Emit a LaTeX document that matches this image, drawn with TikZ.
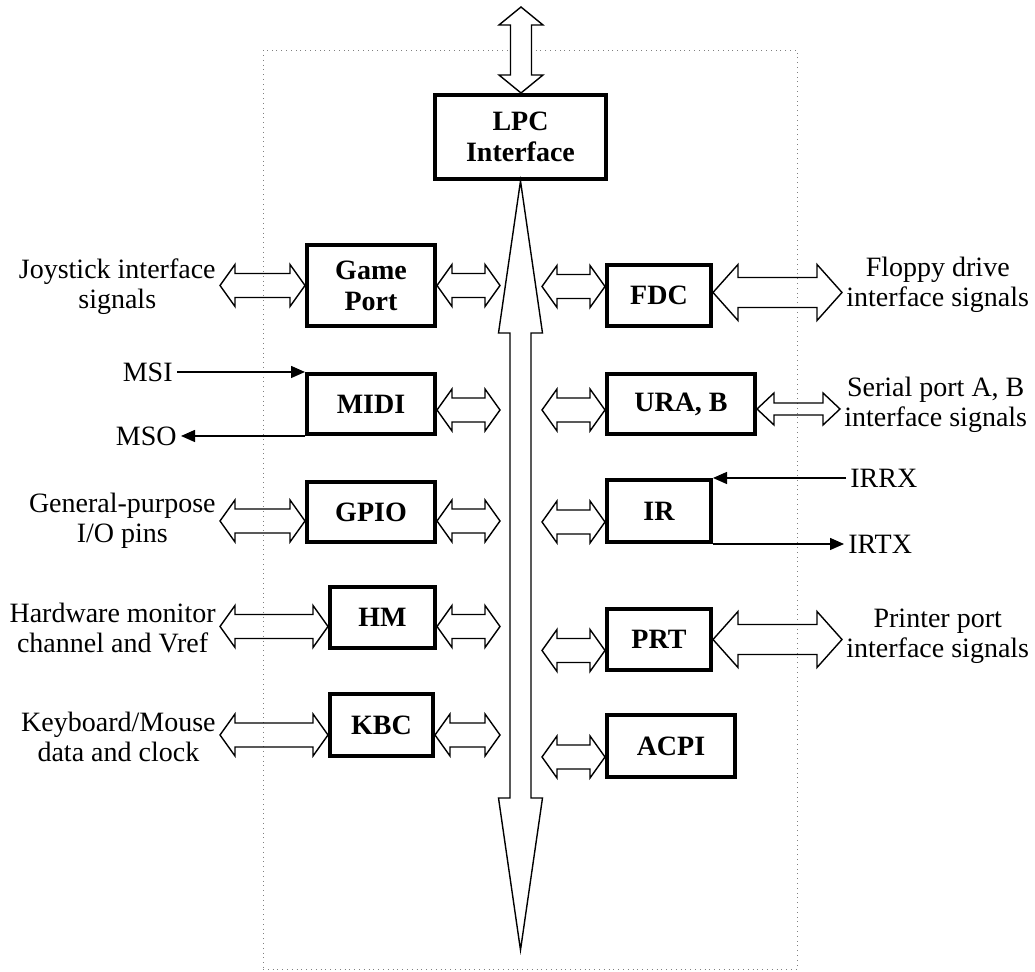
\documentclass[tikz,border=0pt]{standalone}
\usepackage{fontspec}
\setmainfont{Liberation Serif}
\usetikzlibrary{arrows.meta,calc}

\begin{document}
\begin{tikzpicture}[x=0.5pt,y=-0.5pt,
    blk/.style={draw, line width=2pt, align=center, inner sep=0pt,
      font=\fontsize{14}{15.5}\selectfont\bfseries},
    lbl/.style={align=center, inner sep=2pt, font=\fontsize{14}{15}\selectfont},
    sig/.style={line width=0.7pt, -{Triangle[length=7pt,width=6pt]}},
    % hollow double arrows: head length, head half width, shaft half width
    hdbl/.style n args={3}{draw, line width=0.7pt, line join=miter,
      to path={let \p1=(\tikztostart), \p2=(\tikztotarget),
        \n1={ifthenelse(\x2>\x1,#1,-#1)}, \n2={ifthenelse(\x2>\x1,-#1,#1)} in
        (\x1,\y1) -- ++({0pt+\n1},#2) -- ++(0pt,#3-#2) -- (\x2+\n2,\y1+#3) -- ++(0pt,#2-#3)
        -- (\x2,\y1) -- ++({0pt+\n2},-#2) -- ++(0pt,#2-#3) -- (\x1+\n1,\y1-#3) -- ++(0pt,#3-#2) -- cycle}},
    vdbl/.style n args={3}{draw, line width=0.7pt, line join=miter,
      to path={let \p1=(\tikztostart), \p2=(\tikztotarget),
        \n1={ifthenelse(\y2>\y1,#1,-#1)}, \n2={ifthenelse(\y2>\y1,-#1,#1)} in
        (\x1,\y1) -- ++(#2,{0pt+\n1}) -- ++(#3-#2,0pt) -- (\x1+#3,\y2+\n2) -- ++(#2-#3,0pt)
        -- (\x1,\y2) -- ++(-#2,{0pt+\n2}) -- ++(#2-#3,0pt) -- (\x1-#3,\y1+\n1) -- ++(#3-#2,0pt) -- cycle}},
    link/.style={hdbl={7.5pt}{10.5pt}{6pt}},
    cable/.style={hdbl={12.5pt}{14pt}{7.5pt}},
    serl/.style={hdbl={8.5pt}{8pt}{3pt}}]
  \useasboundingbox (0,0) rectangle (1035,972);
  \node[draw=gray, dotted, minimum width=267pt, minimum height=459.5pt] (chip) at (530,509.5) {};

  % blocks
  \node[blk, minimum width=85.5pt, minimum height=42pt] (lpc) at (520.5,137) {LPC\\Interface};
  \node[blk, minimum width=64pt, minimum height=40.5pt] (gp) at (371,285.5) {Game\\Port};
  \node[blk, minimum width=64pt, minimum height=30pt] (midi) at (371,404) {MIDI};
  \node[blk, minimum width=64pt, minimum height=30pt] (gpio) at (371,512) {GPIO};
  \node[blk, minimum width=52.5pt, minimum height=30.5pt] (hm) at (382.5,617.5) {HM};
  \node[blk, minimum width=51.5pt, minimum height=31pt] (kbc) at (381.5,725) {KBC};
  \node[blk, minimum width=52pt, minimum height=30.5pt] (fdc) at (659,295.5) {FDC};
  \node[blk, minimum width=74pt, minimum height=30pt] (ura) at (681,404) {URA, B};
  \node[blk, minimum width=52pt, minimum height=31pt] (ir) at (659,511) {IR};
  \node[blk, minimum width=52pt, minimum height=30.5pt] (prt) at (659,639.5) {PRT};
  \node[blk, minimum width=64pt, minimum height=31pt] (acpi) at (671,746) {ACPI};

  % outside signals
  \node[lbl, anchor=east] (joy) at (220,287) {Joystick interface\\signals};
  \node[lbl, anchor=east] (gpl) at (220,521) {General-purpose\\I/O pins};
  \node[lbl, anchor=east] (hml) at (220,628) {Hardware monitor\\channel and Vref};
  \node[lbl, anchor=east] (kbl) at (220,737) {Keyboard/Mouse\\data and clock};
  \node[lbl, anchor=west] (fdl) at (842,285) {Floppy drive\\interface signals};
  \node[lbl, anchor=west] (srl) at (840,405) {Serial port A, B\\interface signals};
  \node[lbl, anchor=west] (prl) at (842,636) {Printer port\\interface signals};
  \node[lbl, anchor=east] (msi) at ($(midi.north west)+(-128,0)$) {MSI};
  \node[lbl, anchor=east] (mso) at ($(midi.south west)+(-124,0)$) {MSO};
  \node[lbl, anchor=west] (irrx) at ($(ir.north east)+(133,0)$) {IRRX};
  \node[lbl, anchor=west] (irtx) at ($(ir.south east)+(131,0)$) {IRTX};

  \coordinate (host) at (521,7);
  \coordinate (bust) at (521,950);
  \coordinate (busl) at (500,0);
  \coordinate (busr) at (542,0);

  % bus
  \draw[vdbl={9pt}{11pt}{5.25pt}, fill=white] (host) to (lpc.north);
  \draw[vdbl={76pt}{11pt}{5.25pt}] (lpc.south) to (bust);

  \draw[link] (gp.east) to (busl);
  \draw[link] ([yshift=-3pt]midi.east) to (busl);
  \draw[link] ([yshift=-4.5pt]gpio.east) to (busl);
  \draw[link] ([yshift=-4.5pt]hm.east) to (busl);
  \draw[link] ([yshift=-5pt]kbc.east) to (busl);
  \draw[link] ([yshift=4.5pt]fdc.west) to (busr);
  \draw[link] ([yshift=-3pt]ura.west) to (busr);
  \draw[link] ([yshift=-5.5pt]ir.west) to (busr);
  \draw[link] ([yshift=-5.5pt]prt.west) to (busr);
  \draw[link] ([yshift=-5.5pt]acpi.west) to (busr);

  \draw[link] (gp.west) to (joy.east);
  \draw[link] ([yshift=-4.5pt]gpio.west) to (gpl.east);
  \draw[link] ([yshift=-4.5pt]hm.west) to (hml.east);
  \draw[link] ([yshift=-5pt]kbc.west) to (kbl.east);
  \draw[cable] ([yshift=1.5pt]fdc.east) to (fdl.west);
  \draw[serl] ([yshift=-2.5pt]ura.east) to (srl.west);
  \draw[cable] (prt.east) to (prl.west);

  \draw[sig] (msi.east) -- (midi.north west);
  \draw[sig] (midi.south west) -- (mso.east);
  \draw[sig] (irrx.west) -- (ir.north east);
  \draw[sig] (ir.south east) -- (irtx.west);
\end{tikzpicture}
\end{document}
